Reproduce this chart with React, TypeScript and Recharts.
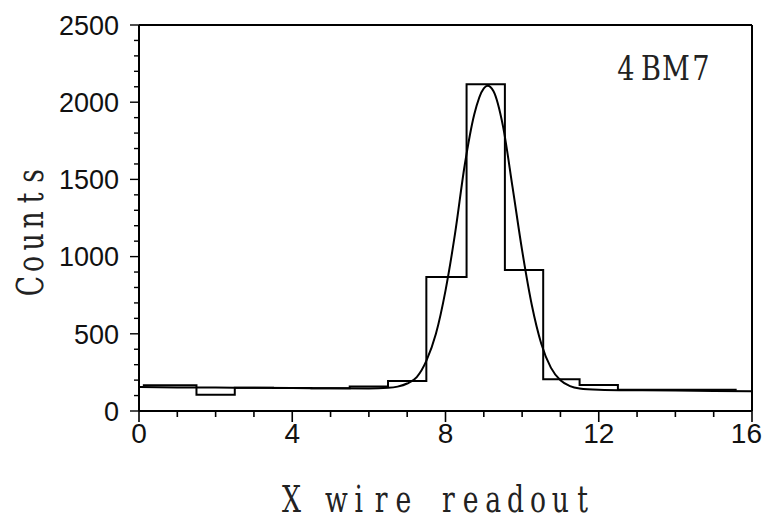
import { LineChart, Line, XAxis, YAxis } from 'recharts';

// tick positions (labels only on the major ones)
const xTicks = [0, 1, 2, 3, 4, 5, 6, 7, 8, 9, 10, 11, 12, 13, 14, 15, 16];
const yTicks = [
  0, 100, 200, 300, 400, 500, 600, 700, 800, 900, 1000, 1100, 1200,
  1300, 1400, 1500, 1600, 1700, 1800, 1900, 2000, 2100, 2200, 2300, 2400, 2500,
];

// histogram: left edge of each wire bin and its counts
const histEdges = [0.1, 1.5, 2.5, 3.5, 4.5, 5.5, 6.5, 7.5, 8.55, 9.55, 10.55, 11.5, 12.5, 15.6];
const histCounts = [166, 105, 150, 149, 148, 158, 195, 868, 2116, 913, 205, 168, 138, 138];

// fitted curve
const fitX = [0, 1, 2, 3, 4, 5, 6, 6.5, 6.75, 7, 7.25, 7.5, 7.75, 8, 8.25, 8.5, 8.75, 9, 9.1, 9.25, 9.5, 9.75, 10, 10.25, 10.5, 10.75, 11, 11.25, 11.5, 12, 13, 14, 15, 16];
const fitY = [155, 153, 152, 150, 149, 147, 146, 150, 158, 178, 220, 325, 500, 780, 1150, 1590, 1920, 2090, 2106, 2072, 1845, 1450, 1040, 690, 436, 281, 199, 161, 146, 138, 134, 132, 130, 128];

const histData = histEdges.map((x, i) => ({ x, y: histCounts[i] }));
const fitData = fitX.map((x, i) => ({ x, y: fitY[i] }));

const tickFont = "'Liberation Sans', Arial, sans-serif";
const serifFont = "'DejaVu Serif', serif";

// typewriter-style text: one serif glyph per fixed-width cell, squeezed sideways
function TypeText({ text, x, y, pitch, size, squeeze }: any) {
  return (
    <g>
      {text.split('').map((c: string, i: number) => (
        <text
          key={i}
          transform={`translate(${x + i * pitch} ${y}) scale(${squeeze} 1)`}
          textAnchor="middle"
          fontFamily={serifFont}
          fontSize={size}
          fill="#222"
        >
          {c}
        </text>
      ))}
    </g>
  );
}

function BottomTick({ x, y, payload }: any) {
  const major = payload.value % 4 === 0;
  const last = payload.value === 16;
  return (
    <g>
      <line x1={x} y1={y} x2={x} y2={y + (major ? 11 : 6)} stroke="#000" strokeWidth={1.6} />
      {major && (
        <text
          x={last ? 762 : x}
          y={y + 32}
          textAnchor={last ? 'end' : 'middle'}
          fontFamily={tickFont}
          fontSize={28}
          fill="#111"
        >
          {payload.value}
        </text>
      )}
    </g>
  );
}

function TopTick({ x, y, payload }: any) {
  const major = payload.value % 4 === 0;
  return <line x1={x} y1={y} x2={x} y2={y - (major ? 11 : 6)} stroke="#000" strokeWidth={1.4} />;
}

function LeftTick({ x, y, payload }: any) {
  const major = payload.value % 500 === 0;
  return (
    <g>
      <line x1={x} y1={y} x2={x - (major ? 9 : 5)} y2={y} stroke="#000" strokeWidth={1.4} />
      {major && (
        <text x={x - 20} y={y} dy="0.36em" textAnchor="end" fontFamily={tickFont} fontSize={27} fill="#111">
          {payload.value}
        </text>
      )}
    </g>
  );
}

function RightTick({ x, y, payload }: any) {
  const major = payload.value % 500 === 0;
  return <line x1={x} y1={y} x2={x + (major ? 9 : 5)} y2={y} stroke="#000" strokeWidth={1.4} />;
}

export default function App() {
  return (
    <div style={{ position: 'absolute', left: 0, top: 0, width: 762, height: 520, background: '#fff' }}>
      <LineChart
        width={762}
        height={520}
        margin={{ top: 13, right: 0, bottom: 69, left: 79 }}
      >
        <XAxis
          dataKey="x"
          type="number"
          domain={[0, 16]}
          ticks={xTicks}
          interval={0}
          tickSize={0}
          tickMargin={0}
          height={40}
          axisLine={{ stroke: '#000', strokeWidth: 2 }}
          tick={<BottomTick />}
        />
        <XAxis
          xAxisId="top"
          orientation="top"
          dataKey="x"
          type="number"
          domain={[0, 16]}
          ticks={xTicks}
          interval={0}
          tickSize={0}
          tickMargin={0}
          height={12}
          axisLine={{ stroke: '#000', strokeWidth: 2 }}
          tick={<TopTick />}
        />
        <YAxis
          type="number"
          domain={[0, 2500]}
          ticks={yTicks}
          interval={0}
          tickSize={0}
          tickMargin={0}
          width={60}
          axisLine={{ stroke: '#000', strokeWidth: 2 }}
          tick={<LeftTick />}
        />
        <YAxis
          yAxisId="right"
          orientation="right"
          type="number"
          domain={[0, 2500]}
          ticks={yTicks}
          interval={0}
          tickSize={0}
          tickMargin={0}
          width={10}
          axisLine={{ stroke: '#000', strokeWidth: 2 }}
          tick={<RightTick />}
        />
        <Line
          data={histData}
          dataKey="y"
          type="stepAfter"
          stroke="#000"
          strokeWidth={2}
          dot={false}
          isAnimationActive={false}
        />
        <Line
          data={fitData}
          dataKey="y"
          type="monotone"
          stroke="#000"
          strokeWidth={2}
          dot={false}
          isAnimationActive={false}
        />
      </LineChart>
      <svg width={762} height={520} style={{ position: 'absolute', left: 0, top: 0, pointerEvents: 'none' }}>
        <TypeText text="4BM7" x={626} y={80} pitch={25} size={34} squeeze={0.8} />
        <TypeText text="X wire readout" x={291.5} y={512} pitch={22.4} size={37} squeeze={0.72} />
        <g transform="translate(43 286) rotate(-90)">
          <TypeText text="Counts" x={0} y={0} pitch={22} size={37} squeeze={0.72} />
        </g>
      </svg>
    </div>
  );
}
